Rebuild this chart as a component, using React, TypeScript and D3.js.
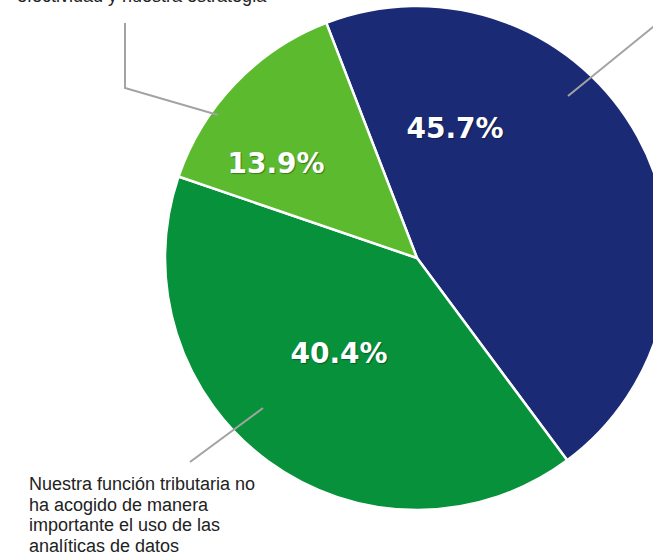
import React from "react";
import * as d3 from "d3";

const categories = [
  "Nuestra función tributaria ha acogido el uso de las analíticas de datos",
  "Nuestra función tributaria no ha acogido de manera importante el uso de las analíticas de datos",
  "Las analíticas de datos han mejorado nuestra efectividad y nuestra estrategia",
];
const values = [45.7, 40.4, 13.9];
const valueLabels = ["45.7%", "40.4%", "13.9%"];
const colors = ["#1b2a75", "#07913a", "#5cba2e"];
const labelPositions: [number, number][] = [
  [455, 138],
  [339, 363],
  [276, 173],
];
const topNoteLines = ["efectividad y nuestra estrategia"];
const bottomNoteLines = [
  "Nuestra función tributaria no",
  "ha acogido de manera",
  "importante el uso de las",
  "analíticas de datos",
];
const leaderLines: [number, number][][] = [
  [
    [568, 96],
    [690, -3],
  ],
  [
    [263, 408],
    [190, 462],
  ],
  [
    [125, 23],
    [125, 88],
    [218, 115],
  ],
];

export default function App() {
  const W = 653;
  const H = 557;
  const cx = 417;
  const cy = 258;
  const R = 252;
  const start = (-21.1 * Math.PI) / 180;
  const pie = d3
    .pie<number>()
    .sort(null)
    .value((d) => d)
    .startAngle(start)
    .endAngle(start + 2 * Math.PI);
  const arcs = pie(values);
  const arc = d3.arc<d3.PieArcDatum<number>>().innerRadius(0).outerRadius(R);
  const line = d3.line();

  return (
    <svg
      width={W}
      height={H}
      style={{ position: "absolute", left: 0, top: 0, background: "#fff" }}
    >
      <g transform={`translate(${cx},${cy})`}>
        {arcs.map((a, i) => (
          <path
            key={i}
            d={arc(a) || ""}
            fill={colors[i]}
            stroke="#fff"
            strokeWidth={2.5}
            strokeLinejoin="round"
          >
            <title>{categories[i]}</title>
          </path>
        ))}
      </g>
      {leaderLines.map((pts, i) => (
        <path
          key={i}
          d={line(pts) || ""}
          fill="none"
          stroke="#a3a3a3"
          strokeWidth={2}
        />
      ))}
      {valueLabels.map((t, i) => (
        <text
          key={i}
          x={labelPositions[i][0]}
          y={labelPositions[i][1]}
          textAnchor="middle"
          fill="#fff"
          fontFamily="'DejaVu Sans', sans-serif"
          fontWeight={700}
          fontSize={28}
          style={{ textShadow: "1px 1px 1px rgba(0,0,0,0.35)" }}
        >
          {t}
        </text>
      ))}
      {topNoteLines.map((t, i) => (
        <text
          key={i}
          x={17}
          y={2 + i * 20.7}
          fill="#222"
          fontFamily="'Liberation Sans', Arial, sans-serif"
          fontSize={18}
        >
          {t}
        </text>
      ))}
      {bottomNoteLines.map((t, i) => (
        <text
          key={i}
          x={29}
          y={490 + i * 20.7}
          fill="#222"
          fontFamily="'Liberation Sans', Arial, sans-serif"
          fontSize={18}
        >
          {t}
        </text>
      ))}
    </svg>
  );
}
